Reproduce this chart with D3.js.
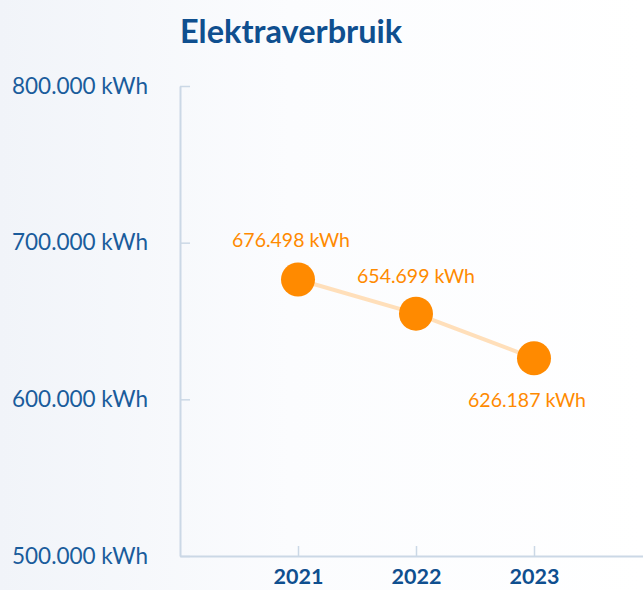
<!DOCTYPE html>
<html><head><meta charset="utf-8">
<script src="https://cdn.jsdelivr.net/npm/d3@7"></script>
<style>html,body{margin:0;padding:0;background:#fff}svg{display:block}</style>
</head><body>
<script>
const years = [2021, 2022, 2023];
const values = [676498, 654699, 626187];
const yTicks = [500000, 600000, 700000, 800000];
const labelDx = [-7, 0, -7];
const labelDy = [-39, -37, 42];
const title = "Elektraverbruik";

const W = 643, H = 590;
const FONT = "Lato, 'Open Sans', sans-serif";
const blue = "#1a5c9c", dark = "#0f4f8f", orange = "#ff8a00", axisCol = "#cbd8e6";

const nl = d3.formatLocale({decimal: ",", thousands: ".", grouping: [3], currency: ["€", ""]});
const fmt = v => nl.format(",.0f")(v) + " kWh";

const svg = d3.select("body").append("svg").attr("width", W).attr("height", H);
const defs = svg.append("defs");
const g = defs.append("linearGradient").attr("id", "bg").attr("x1", 0).attr("x2", 1).attr("y1", 0).attr("y2", 0);
g.append("stop").attr("offset", "0%").attr("stop-color", "#f1f4f9");
g.append("stop").attr("offset", "45%").attr("stop-color", "#fbfcfe");
g.append("stop").attr("offset", "100%").attr("stop-color", "#ffffff");
svg.append("rect").attr("width", W).attr("height", H).attr("fill", "url(#bg)");

const x = d3.scaleLinear().domain([2020, 2024]).range([180, 652]);
const y = d3.scaleLinear().domain([500000, 800000]).range([556, 86]);

// title
svg.append("text").attr("x", 180).attr("y", 43).text(title)
  .attr("font-family", FONT).attr("font-weight", 700).attr("font-size", 32.5).attr("fill", dark);

// y axis
const ya = svg.append("g").attr("transform", `translate(${x.range()[0]},0)`)
  .call(d3.axisLeft(y).tickValues(yTicks).tickFormat(fmt).tickSizeInner(-10).tickSizeOuter(0));
ya.select(".domain").attr("stroke", axisCol).attr("stroke-width", 2);
ya.selectAll(".tick line").attr("stroke", axisCol).attr("stroke-width", 1.5);
ya.selectAll(".tick text").attr("x", -168).attr("text-anchor", "start")
  .attr("font-family", FONT).attr("font-size", 22.5).attr("fill", blue);

// x axis
const xa = svg.append("g").attr("transform", `translate(0,${y.range()[0]})`)
  .call(d3.axisBottom(x).tickValues(years).tickFormat(d3.format("d")).tickSizeInner(-10).tickSizeOuter(0));
xa.select(".domain").attr("stroke", axisCol).attr("stroke-width", 2);
xa.selectAll(".tick line").attr("stroke", axisCol).attr("stroke-width", 1.5);
xa.selectAll(".tick text").attr("y", 28).attr("dy", 0)
  .attr("font-family", FONT).attr("font-weight", 700).attr("font-size", 21.5).attr("fill", dark);

// line
const data = years.map((yr, i) => ({yr, v: values[i], i}));
svg.append("path").datum(data)
  .attr("d", d3.line().x(d => x(d.yr)).y(d => y(d.v)))
  .attr("fill", "none").attr("stroke", "#ffdfba").attr("stroke-width", 4);

svg.selectAll("circle.pt").data(data).join("circle").attr("class", "pt")
  .attr("cx", d => x(d.yr)).attr("cy", d => y(d.v)).attr("r", 17).attr("fill", orange);

svg.selectAll("text.lbl").data(data).join("text").attr("class", "lbl")
  .attr("x", d => x(d.yr) + labelDx[d.i]).attr("y", d => y(d.v) + labelDy[d.i])
  .attr("dy", "0.35em").attr("text-anchor", "middle")
  .attr("font-family", FONT).attr("font-size", 19.5).attr("fill", orange)
  .text(d => fmt(d.v));
</script>
</body></html>
